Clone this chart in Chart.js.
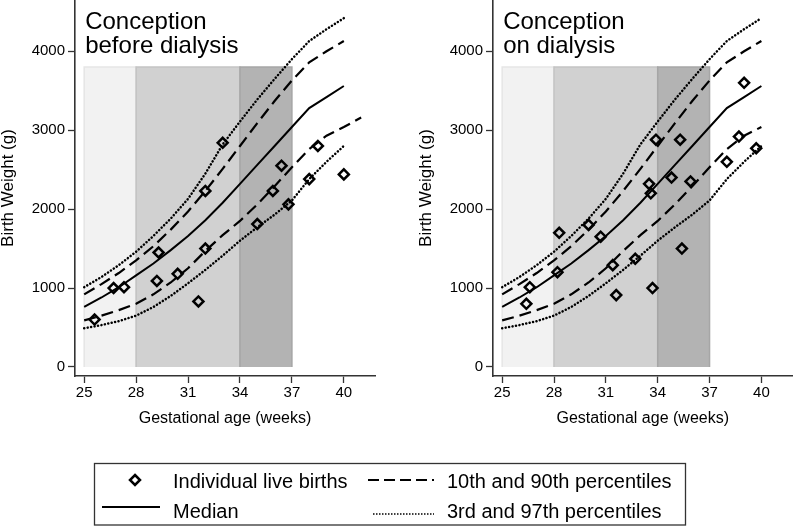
<!DOCTYPE html>
<html>
<head>
<meta charset="utf-8">
<script src="https://cdn.jsdelivr.net/npm/chart.js@4.4.1/dist/chart.umd.min.js"></script>
<style>
  html, body { margin: 0; padding: 0; background: #fff; overflow: hidden; }
  #wrap { position: relative; width: 795px; height: 527px; overflow: hidden; }
  .panel { position: absolute; top: -20px; width: 400px; height: 480px; }
  #left { left: 0; }
  #right { left: 400px; }
  #legend { position: absolute; left: 0; top: 0; }
  #legend text { font-family: "Liberation Sans", Arial, sans-serif; font-size: 20px; fill: #000; }
</style>
</head>
<body>
<div id="wrap">
  <div class="panel" id="left"><canvas id="chartLeft"></canvas></div>
  <div class="panel" id="right"><canvas id="chartRight"></canvas></div>
  <svg id="legend" width="795" height="527">
    <rect x="94.5" y="463.5" width="591" height="61.5" fill="none" stroke="#333" stroke-width="1.3"/>
    <path d="M135 475 L140 480 L135 485 L130 480 Z" fill="none" stroke="#000" stroke-width="2.5"/>
    <line x1="368" y1="480" x2="434" y2="480" stroke="#000" stroke-width="2.2" stroke-dasharray="11 5"/>
    <line x1="102" y1="507" x2="160" y2="507" stroke="#000" stroke-width="2"/>
    <line x1="373" y1="514" x2="434" y2="514" stroke="#000" stroke-width="1.6" stroke-dasharray="1.5 1.5"/>
    <text x="173" y="488">Individual live births</text>
    <text x="447" y="488">10th and 90th percentiles</text>
    <text x="173" y="518">Median</text>
    <text x="447" y="518">3rd and 97th percentiles</text>
  </svg>
</div>
<script>
const FONT = '"Liberation Sans", Arial, sans-serif'

// axis ranges and ticks
const X_MIN = 24.47
const X_MAX = 41.8
const Y_MIN = -115
const Y_MAX = 4650
const xTicks = [25, 28, 31, 34, 37, 40]
const yTicks = [0, 1000, 2000, 3000, 4000]

// reference percentile curves (g) by gestational week
const weeks = [25, 26, 27, 28, 29, 30, 31, 32, 33, 34, 35, 36, 37, 38, 39, 40, 41]
const median = [760, 880, 1010, 1160, 1310, 1480, 1660, 1860, 2080, 2320, 2560, 2800, 3040, 3280, 3420, 3560]
const p10 = [590, 650, 720, 800, 920, 1070, 1250, 1470, 1670, 1850, 2060, 2290, 2530, 2760, 2930, 3040, 3160]
const p90 = [920, 1050, 1190, 1350, 1530, 1740, 1970, 2230, 2510, 2800, 3090, 3370, 3630, 3860, 4000, 4130]
const p3 = [490, 530, 580, 650, 760, 900, 1060, 1230, 1410, 1600, 1770, 1930, 2110, 2380, 2600, 2800]
const p97 = [1010, 1140, 1290, 1460, 1660, 1880, 2130, 2450, 2820, 3110, 3390, 3650, 3900, 4130, 4280, 4420]

// shaded gestation bands
const bandStart = [25, 28, 34]
const bandEnd = [28, 34, 37]
const bandTop = 3800
const bandFill = ["#f2f2f2", "#d1d1d1", "#b3b3b3"]
const bandLine = ["#e6e6e6", "#c3c3c3", "#a6a6a6"]

// individual live births
const leftAge = [25.6, 26.7, 27.3, 29.2, 29.3, 30.4, 31.6, 32.0, 32.0, 33.0, 35.0, 35.9, 36.4, 36.8, 38.0, 38.5, 40.0]
const leftWeight = [600, 1000, 1010, 1090, 1450, 1180, 830, 1500, 2230, 2840, 1810, 2230, 2550, 2060, 2380, 2800, 2440]
const rightAge = [26.4, 26.6, 28.2, 28.3, 30.0, 30.7, 31.4, 31.6, 32.7, 33.5, 33.6, 33.7, 33.9, 34.8, 35.3, 35.4, 35.9, 38.0, 38.7, 39.0, 39.7]
const rightWeight = [800, 1010, 1200, 1700, 1800, 1650, 1290, 910, 1370, 2320, 2200, 1000, 2880, 2400, 2880, 1500, 2350, 2600, 2920, 3600, 2770]

function toXY(xs, ys) {
  return ys.map((y, i) => ({ x: xs[i], y: y }))
}

function curve(values, dash, width) {
  return {
    data: toXY(weeks, values),
    borderColor: "#000",
    borderWidth: width,
    borderDash: dash,
    borderCapStyle: dash.length && dash[0] < 1 ? "round" : "butt",
    pointRadius: 0,
    fill: false,
    tension: 0,
  }
}

function buildDatasets(ages, births, p10Values) {
  const ds = [
    {
      data: toXY(ages, births),
      showLine: false,
      pointStyle: "rectRot",
      pointRadius: 5,
      pointBorderWidth: 2.5,
      pointBorderColor: "#000",
      pointBackgroundColor: "rgba(0,0,0,0)",
      clip: false,
    },
    curve(median, [], 2),
    curve(p90, [12, 6], 2.2),
    curve(p10Values, [12, 6], 2.2),
    curve(p97, [0.1, 3.4], 2.5),
    curve(p3, [0.1, 3.4], 2.5),
  ]
  // bands: last in list is drawn first
  for (let i = bandStart.length - 1; i >= 0; i--) {
    ds.push({
      data: [
        { x: bandStart[i], y: 0 },
        { x: bandStart[i], y: bandTop },
        { x: bandEnd[i], y: bandTop },
        { x: bandEnd[i], y: 0 },
      ],
      backgroundColor: bandFill[i],
      borderColor: bandLine[i],
      borderWidth: 1.5,
      borderJoinStyle: "miter",
      pointRadius: 0,
      fill: "origin",
      tension: 0,
    })
  }
  return ds
}

const panelTitle = {
  id: "panelTitle",
  afterDraw(chart, args, opts) {
    const { ctx, chartArea, scales } = chart
    ctx.save()
    ctx.font = "24px " + FONT
    ctx.fillStyle = "#000"
    ctx.textBaseline = "alphabetic"
    const x = scales.x.getPixelForValue(xTicks[0]) + 1
    opts.lines.forEach((t, i) => ctx.fillText(t, x, chartArea.top + 29 + i * 24))
    ctx.restore()
  },
}

function makeChart(id, lines, ages, births, p10Values, yWidth, yTitlePad, rightPad) {
  const ctx = document.getElementById(id).getContext("2d")
  return new Chart(ctx, {
    type: "line",
    data: { datasets: buildDatasets(ages, births, p10Values) },
    plugins: [panelTitle],
    options: {
      responsive: true,
      maintainAspectRatio: false,
      animation: false,
      events: [],
      layout: { padding: { top: 20, right: rightPad, left: 0, bottom: 0 } },
      plugins: {
        legend: { display: false },
        tooltip: { enabled: false },
        panelTitle: { lines: lines },
      },
      scales: {
        x: {
          type: "linear",
          min: X_MIN,
          max: X_MAX,
          afterBuildTicks: (s) => { s.ticks = xTicks.map((v) => ({ value: v })) },
          afterFit: (s) => { s.height = 84 },
          grid: { drawOnChartArea: false, drawTicks: true, tickLength: 7, tickColor: "#333", tickWidth: 1.3 },
          border: { display: true, color: "#333", width: 1.6 },
          ticks: {
            color: "#000",
            font: { size: 15, family: FONT },
            padding: 1,
            maxRotation: 0,
            autoSkip: false,
            callback: (v) => String(v),
          },
          title: {
            display: true,
            text: "Gestational age (weeks)",
            color: "#000",
            font: { size: 16, family: FONT, lineHeight: 1 },
            padding: { top: 0, bottom: 33 },
          },
        },
        y: {
          type: "linear",
          min: Y_MIN,
          max: Y_MAX,
          afterBuildTicks: (s) => { s.ticks = yTicks.map((v) => ({ value: v })) },
          afterFit: (s) => { s.width = yWidth },
          grid: { drawOnChartArea: false, drawTicks: true, tickLength: 7, tickColor: "#333", tickWidth: 1.3 },
          border: { display: true, color: "#333", width: 1.6 },
          ticks: {
            color: "#000",
            font: { size: 15, family: FONT },
            padding: 3,
            callback: (v) => String(v),
          },
          title: {
            display: true,
            text: "Birth Weight (g)",
            color: "#000",
            font: { size: 17, family: FONT, lineHeight: 1 },
            padding: { top: yTitlePad, bottom: 0 },
          },
        },
      },
    },
  })
}

makeChart("chartLeft", ["Conception", "before dialysis"], leftAge, leftWeight, p10, 75, 0, 25)
makeChart("chartRight", ["Conception", "on dialysis"], rightAge, rightWeight, p10.slice(0, 16), 93, 17.5, 3)
</script>
</body>
</html>
